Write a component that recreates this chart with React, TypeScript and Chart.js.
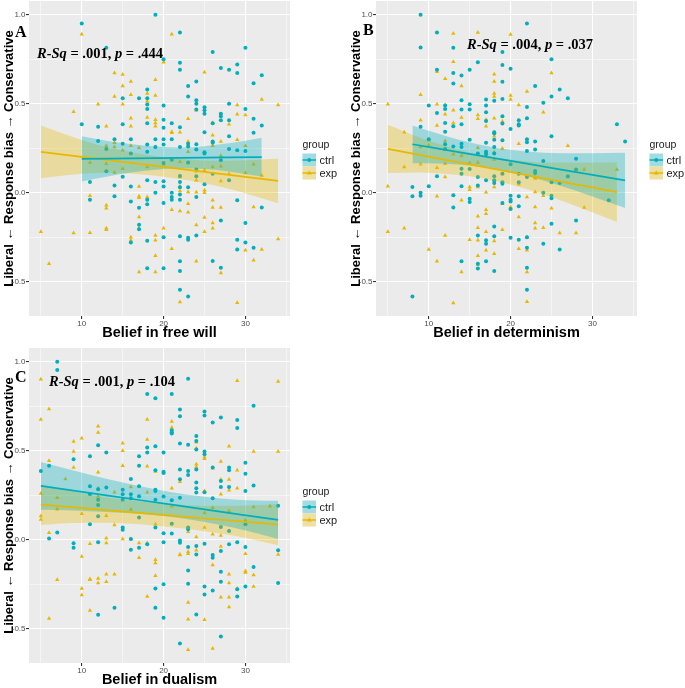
import React, { useEffect, useRef } from 'react';
import { Chart, registerables } from 'chart.js';

Chart.register(...registerables);

// ---------- shared axis data ----------
const xTicks = [5, 10, 15, 20, 25, 30, 35];
const xMajor = [10, 20, 30];
const yTicks = [-0.5, -0.25, 0, 0.25, 0.5, 0.75, 1.0];
const yMajor = [-0.5, 0, 0.5, 1.0];
const groups = ['ctrl', 'exp'];
const yTitle = 'Liberal ← Response bias → Conservative';

// ---------- Panel A: free will ----------
const freeWillCtrl: [number, number][] = [[10,0.95],[10,0.385],[11,0.06],[11,-0.04],[12,0.37],[12,0.29],[13,0.815],[13,0.245],[13,0.12],[14,0.30],[14,0.04],[14,-0.02],[15,0.53],[15,0.385],[15,0.275],[15,0.09],[16,0.30],[16,0.22],[16,0.035],[16,-0.05],[16,-0.28],[17,0.53],[17,-0.085],[17,-0.18],[17,-0.205],[18,0.58],[18,0.53],[18,0.495],[18,0.47],[18,0.39],[18,0.27],[18,0.23],[18,0.07],[18,-0.04],[18,-0.065],[18,-0.27],[18,-0.425],[19,1.0],[19,0.30],[19,0.257],[19,0.06],[19,0.0],[20,0.75],[20,0.49],[20,0.41],[20,0.365],[20,0.30],[20,0.27],[20,0.167],[20,0.064],[20,0.034],[20,-0.058],[20,-0.25],[20,-0.425],[21,0.39],[21,0.30],[21,0.185],[21,0.0],[21,-0.024],[21,-0.04],[22,0.9],[22,0.73],[22,0.69],[22,0.367],[22,0.257],[22,0.094],[22,0.06],[22,0.03],[22,-0.01],[22,-0.04],[22,-0.245],[22,-0.386],[22,-0.44],[22,-0.545],[23,0.6],[23,0.54],[23,0.275],[23,0.26],[23,0.17],[23,0.03],[23,-0.253],[23,-0.264],[23,-0.583],[24,0.625],[24,0.52],[24,0.5],[24,0.467],[24,0.272],[24,0.242],[24,0.13],[24,0.092],[24,-0.024],[24,-0.24],[25,0.48],[25,0.463],[25,0.444],[25,0.34],[25,0.227],[25,0.22],[25,0.047],[26,0.79],[26,0.39],[26,0.287],[26,0.28],[26,0.107],[26,-0.384],[27,0.70],[27,0.444],[27,0.43],[27,0.407],[27,0.182],[27,-0.156],[27,-0.422],[28,0.69],[28,0.50],[28,0.407],[28,0.317],[28,0.245],[28,0.07],[29,0.72],[29,0.673],[29,0.238],[29,-0.043],[29,-0.264],[29,-0.32],[30,0.814],[30,0.47],[30,0.234],[30,-0.17],[30,-0.28],[31,0.615],[31,0.416],[31,0.336],[31,-0.31],[32,0.66],[32,0.377],[32,-0.084]];
const freeWillExp: [number, number][] = [[5,-0.22],[6,-0.40],[9,0.454],[9,-0.227],[10,0.89],[11,0.169],[11,-0.017],[11,-0.225],[12,0.497],[13,0.373],[13,0.264],[13,0.163],[13,-0.07],[13,-0.088],[13,-0.2],[13,-0.208],[14,0.673],[14,0.54],[14,0.28],[14,0.257],[14,0.113],[15,0.664],[15,0.60],[15,0.497],[15,0.238],[15,0.135],[16,0.625],[16,0.55],[16,0.418],[16,0.373],[16,0.264],[16,-0.25],[16,-0.268],[17,0.253],[17,0.035],[17,-0.02],[17,-0.028],[17,-0.137],[17,-0.2],[17,-0.446],[18,0.557],[18,0.514],[18,0.422],[18,0.144],[18,-0.024],[19,0.635],[19,0.546],[19,0.41],[19,0.392],[19,0.373],[19,0.257],[19,-0.24],[19,-0.268],[19,-0.354],[19,-0.446],[20,0.733],[20,0.16],[20,-0.2],[21,0.89],[21,0.343],[21,0.336],[21,-0.096],[21,-0.315],[22,0.34],[22,0.174],[22,0.088],[22,0.036],[22,0.01],[22,-0.103],[22,-0.615],[23,0.416],[23,0.287],[23,0.23],[23,0.167],[23,0.004],[23,-0.062],[23,-0.11],[24,0.463],[24,0.12],[24,0.07],[24,0.002],[24,-0.182],[24,-0.385],[25,0.677],[25,0.126],[25,0.013],[25,0.0],[25,-0.14],[25,-0.22],[26,0.392],[26,0.322],[26,0.264],[26,0.144],[26,-0.043],[26,-0.084],[26,-0.17],[26,-0.2],[27,0.287],[27,0.208],[27,0.148],[27,0.066],[27,-0.084],[27,-0.452],[28,0.50],[28,0.384],[28,0.107],[29,0.493],[29,0.44],[29,0.298],[29,-0.32],[29,-0.619],[30,0.437],[30,0.264],[30,0.11],[30,-0.324],[31,0.16],[31,-0.08],[31,-0.38],[32,0.523],[32,0.097],[32,-0.32],[34,0.493],[34,-0.26]];
const freeWillCtrlFitX = [10, 13, 16, 19, 22, 25, 28, 32];
const freeWillCtrlFit = [0.190, 0.191, 0.193, 0.194, 0.195, 0.197, 0.198, 0.200];
const freeWillCtrlUpper = [0.317, 0.292, 0.273, 0.259, 0.254, 0.261, 0.277, 0.309];
const freeWillCtrlLower = [0.063, 0.090, 0.113, 0.129, 0.136, 0.133, 0.119, 0.091];
const freeWillExpFitX = [5, 9, 13, 17, 20, 23, 27, 31, 34];
const freeWillExpFit = [0.229, 0.207, 0.184, 0.162, 0.145, 0.128, 0.106, 0.083, 0.066];
const freeWillExpUpper = [0.377, 0.312, 0.256, 0.220, 0.200, 0.186, 0.179, 0.183, 0.192];
const freeWillExpLower = [0.081, 0.102, 0.112, 0.104, 0.090, 0.070, 0.033, -0.017, -0.060];

// ---------- Panel B: determinism ----------
const determinismCtrl: [number, number][] = [[8,0.032],[8,-0.02],[8,-0.583],[9,1.0],[9,0.816],[9,0.37],[9,0.0],[9,-0.017],[10,0.49],[10,0.30],[10,0.036],[11,0.90],[11,0.69],[11,0.448],[11,0.092],[12,0.49],[12,0.47],[12,0.392],[12,0.343],[12,0.272],[12,0.245],[13,0.814],[13,0.673],[13,0.613],[13,0.373],[13,0.26],[13,-0.015],[13,-0.084],[14,0.658],[14,0.52],[14,0.467],[14,0.384],[14,0.275],[14,0.257],[14,0.135],[14,0.107],[14,0.036],[14,-0.385],[15,0.69],[15,0.497],[15,0.467],[15,0.298],[15,0.133],[15,-0.034],[15,-0.052],[16,0.733],[16,0.22],[16,0.088],[16,0.04],[16,-0.24],[16,-0.40],[16,-0.426],[17,0.523],[17,0.49],[17,0.452],[17,0.403],[17,0.28],[17,0.23],[17,0.216],[17,0.07],[17,-0.268],[17,-0.287],[17,-0.385],[18,0.516],[18,0.34],[18,0.332],[18,0.298],[18,0.257],[18,0.22],[18,0.092],[18,0.07],[18,0.054],[18,-0.19],[18,-0.245],[18,-0.44],[19,0.79],[19,0.718],[19,0.623],[19,0.527],[19,0.43],[19,0.388],[19,0.294],[19,0.107],[19,0.058],[19,0.05],[19,-0.058],[20,0.696],[20,0.358],[20,0.16],[20,-0.017],[20,-0.04],[20,-0.05],[20,-0.092],[20,-0.253],[21,0.407],[21,0.384],[21,0.377],[21,0.107],[21,0.058],[21,-0.02],[21,-0.077],[21,-0.264],[22,0.95],[22,0.482],[22,0.418],[22,0.30],[22,0.283],[22,0.234],[22,0.088],[22,-0.25],[22,-0.31],[22,-0.422],[22,-0.545],[23,0.60],[23,0.287],[23,0.242],[23,0.122],[23,0.11],[24,0.505],[24,0.178],[24,0.0],[24,-0.287],[25,0.75],[25,0.54],[25,0.317],[25,0.058],[25,-0.017],[25,-0.032],[25,-0.174],[26,0.58],[26,0.054],[26,-0.32],[27,0.53],[27,0.092],[28,0.19],[28,0.13],[28,-0.156],[32,-0.043],[33,0.384],[34,0.287]];
const determinismExp: [number, number][] = [[5,0.497],[5,0.036],[5,-0.22],[7,0.34],[7,0.144],[7,-0.2],[9,0.55],[9,0.407],[9,0.257],[9,0.16],[10,0.294],[10,0.266],[10,-0.32],[11,0.68],[11,0.497],[11,0.377],[11,0.14],[11,-0.02],[11,-0.385],[12,0.64],[12,0.493],[12,0.44],[12,0.29],[12,0.242],[12,0.163],[12,0.088],[12,-0.24],[13,0.895],[13,0.735],[13,0.463],[13,0.392],[13,0.216],[13,-0.62],[14,0.60],[14,0.422],[14,0.208],[14,-0.043],[14,-0.446],[15,0.167],[15,0.032],[15,0.017],[15,-0.264],[16,0.90],[16,0.437],[16,0.416],[16,0.253],[16,0.17],[16,0.032],[16,-0.133],[16,-0.197],[16,-0.268],[16,-0.354],[16,-0.403],[17,0.41],[17,0.373],[17,0.229],[17,0.002],[17,-0.096],[17,-0.118],[17,-0.22],[17,-0.324],[18,0.666],[18,0.625],[18,0.557],[18,0.54],[18,0.418],[18,0.34],[18,0.317],[18,0.227],[18,0.186],[18,0.032],[18,-0.272],[18,-0.343],[19,0.4],[19,0.248],[19,0.107],[19,-0.062],[19,-0.208],[20,0.889],[20,0.546],[20,0.523],[20,-0.08],[20,-0.09],[21,0.493],[21,0.275],[21,0.047],[21,-0.137],[21,-0.315],[22,0.568],[22,-0.024],[22,-0.25],[22,-0.324],[22,-0.446],[22,-0.613],[23,0.088],[23,0.079],[23,0.004],[23,-0.08],[23,-0.17],[23,-0.2],[24,0.452],[24,-0.017],[24,-0.197],[25,0.673],[25,-0.088],[26,-0.227],[27,0.264],[27,0.088],[28,-0.227],[29,0.13],[29,-0.084],[33,0.13]];
const determinismCtrlFitX = [8, 11, 14, 18, 22, 26, 30, 34];
const determinismCtrlFit = [0.272, 0.249, 0.225, 0.194, 0.163, 0.131, 0.100, 0.069];
const determinismCtrlUpper = [0.378, 0.334, 0.293, 0.254, 0.232, 0.222, 0.221, 0.224];
const determinismCtrlLower = [0.166, 0.164, 0.157, 0.134, 0.094, 0.040, -0.021, -0.086];
const determinismExpFitX = [5, 9, 13, 17, 21, 25, 29, 33];
const determinismExpFit = [0.246, 0.211, 0.176, 0.142, 0.107, 0.072, 0.038, 0.003];
const determinismExpUpper = [0.381, 0.308, 0.250, 0.207, 0.181, 0.169, 0.169, 0.171];
const determinismExpLower = [0.111, 0.114, 0.102, 0.077, 0.033, -0.025, -0.093, -0.165];

// ---------- Panel C: dualism ----------
const dualismCtrl: [number, number][] = [[5,0.386],[6,0.415],[6,0.006],[7,1.0],[7,0.953],[7,0.04],[9,0.452],[9,-0.02],[9,-0.045],[11,0.469],[11,0.30],[11,0.255],[11,0.086],[12,0.531],[12,0.283],[12,0.225],[12,0.195],[12,0.131],[12,-0.015],[12,-0.422],[13,0.49],[13,0.293],[14,-0.383],[15,0.28],[15,0.255],[15,0.225],[15,0.068],[15,0.056],[16,0.341],[16,0.255],[16,0.233],[16,0.004],[16,-0.056],[17,0.469],[17,0.415],[17,0.30],[17,0.244],[17,0.124],[17,-0.045],[18,0.818],[18,0.518],[18,0.49],[18,-0.026],[19,0.795],[19,0.525],[19,0.39],[19,0.281],[19,0.274],[19,0.225],[19,0.068],[19,-0.274],[19,-0.383],[20,0.49],[20,0.381],[20,0.375],[20,0.242],[20,0.036],[20,-0.015],[20,-0.251],[20,-0.439],[21,0.818],[21,0.615],[21,0.604],[21,0.597],[21,0.221],[21,0.09],[21,0.034],[22,0.732],[22,0.694],[22,0.54],[22,0.394],[22,0.34],[22,0.236],[22,-0.004],[22,-0.017],[22,-0.584],[23,0.904],[23,0.533],[23,0.386],[23,0.364],[23,0.068],[23,0.058],[23,-0.041],[23,-0.173],[23,-0.248],[24,0.582],[24,0.555],[24,0.507],[24,0.394],[24,0.321],[24,0.289],[24,0.265],[24,-0.036],[24,-0.083],[24,-0.42],[25,0.72],[25,0.698],[25,0.495],[25,0.48],[25,0.266],[25,-0.023],[25,-0.263],[25,-0.308],[26,0.659],[26,0.405],[26,0.233],[26,-0.086],[26,-0.101],[26,-0.285],[27,0.687],[27,0.33],[27,0.296],[27,0.071],[27,-0.064],[27,-0.18],[27,-0.236],[27,-0.544],[28,0.405],[28,0.39],[28,0.296],[28,0.049],[28,-0.026],[29,0.672],[29,0.627],[29,-0.015],[29,-0.278],[29,-0.319],[30,0.432],[30,0.371],[30,0.274],[30,0.086],[30,-0.041],[30,-0.263],[31,0.752],[31,0.304],[31,-0.154],[34,0.191],[34,-0.06],[34,-0.244]];
const dualismExp: [number, number][] = [[5,0.902],[5,0.675],[5,0.259],[5,0.133],[5,0.114],[6,0.734],[6,0.443],[6,0.039],[6,-0.443],[7,0.236],[7,0.171],[7,-0.225],[8,0.341],[9,0.552],[9,0.495],[9,0.405],[10,0.57],[10,0.146],[10,-0.094],[10,-0.274],[10,-0.311],[11,-0.023],[11,-0.221],[11,-0.225],[11,-0.398],[12,0.638],[12,0.602],[12,0.379],[12,0.289],[12,0.242],[12,-0.218],[12,-0.244],[13,0.135],[13,0.008],[13,-0.019],[13,-0.195],[13,-0.236],[14,0.266],[14,0.083],[14,-0.195],[15,0.542],[15,0.499],[15,0.416],[15,0.004],[16,0.296],[16,0.169],[16,0.004],[17,-0.019],[17,-0.101],[18,0.675],[18,0.563],[18,0.413],[18,0.266],[18,-0.019],[18,-0.319],[19,0.383],[19,0.086],[19,-0.113],[19,-0.131],[19,-0.203],[19,-0.383],[20,0.379],[21,0.664],[21,0.63],[21,0.289],[21,0.188],[22,0.326],[22,-0.083],[22,-0.086],[23,0.045],[23,-0.068],[23,-0.079],[23,-0.353],[23,-0.447],[23,-0.619],[24,0.548],[24,0.514],[24,0.424],[24,0.409],[24,0.015],[24,-0.06],[25,0.465],[25,0.454],[25,0.274],[25,0.15],[25,0.068],[25,-0.45],[26,0.401],[26,0.18],[26,0.03],[26,-0.143],[26,-0.612],[27,0.439],[27,0.338],[27,0.255],[27,0.023],[27,-0.038],[27,-0.323],[28,0.525],[28,0.338],[28,0.278],[28,0.161],[28,-0.195],[28,-0.244],[28,-0.323],[28,-0.379],[29,0.893],[29,0.39],[29,0.289],[29,-0.274],[30,0.109],[30,-0.079],[30,-0.176],[30,-0.184],[31,0.495],[31,0.184],[31,-0.199],[31,-0.263],[33,0.188],[34,0.889],[34,0.495],[34,-0.083]];
const dualismCtrlFitX = [5, 9, 13, 17, 21, 25, 29, 34];
const dualismCtrlFit = [0.302, 0.276, 0.249, 0.223, 0.197, 0.170, 0.144, 0.111];
const dualismCtrlUpper = [0.436, 0.388, 0.342, 0.301, 0.267, 0.241, 0.225, 0.218];
const dualismCtrlLower = [0.168, 0.164, 0.156, 0.145, 0.127, 0.099, 0.063, 0.004];
const dualismExpFitX = [5, 9, 13, 17, 20, 23, 27, 31, 34];
const dualismExpFit = [0.197, 0.182, 0.166, 0.151, 0.139, 0.127, 0.112, 0.097, 0.085];
const dualismExpUpper = [0.312, 0.270, 0.237, 0.216, 0.204, 0.194, 0.190, 0.194, 0.201];
const dualismExpLower = [0.082, 0.094, 0.095, 0.086, 0.074, 0.060, 0.034, 0.000, -0.031];

// ---------- styling ----------
const CTRL = '#00AFBB';
const EXP = '#E7B800';
const CTRL_BAND = 'rgba(0,175,187,0.33)';
const EXP_BAND = 'rgba(231,184,0,0.33)';
const SANS = '"Liberation Sans", Arial, sans-serif';
const SERIF = '"Liberation Serif", "Times New Roman", serif';
const CW = 340;
const CH = 340;

interface Panel {
  letter: string;
  left: number;
  top: number;
  xTitle: string;
  stat: [string, boolean][];
  statX: number;
  statY: number;
  letterX: number;
  letterY: number;
  ctrl: [number, number][];
  exp: [number, number][];
  ctrlFitX: number[]; ctrlFit: number[]; ctrlUpper: number[]; ctrlLower: number[];
  expFitX: number[]; expFit: number[]; expUpper: number[]; expLower: number[];
}

const panels: Panel[] = [
  {
    letter: 'A', left: 0, top: 0, xTitle: 'Belief in free will',
    stat: [['R-Sq', true], [' = .001, ', false], ['p', true], [' = .444', false]],
    statX: 37, statY: 54, letterX: 15, letterY: 37,
    ctrl: freeWillCtrl, exp: freeWillExp,
    ctrlFitX: freeWillCtrlFitX, ctrlFit: freeWillCtrlFit, ctrlUpper: freeWillCtrlUpper, ctrlLower: freeWillCtrlLower,
    expFitX: freeWillExpFitX, expFit: freeWillExpFit, expUpper: freeWillExpUpper, expLower: freeWillExpLower,
  },
  {
    letter: 'B', left: 347, top: 0, xTitle: 'Belief in determinism',
    stat: [['R-Sq', true], [' = .004, ', false], ['p', true], [' = .037', false]],
    statX: 120, statY: 45, letterX: 16, letterY: 35,
    ctrl: determinismCtrl, exp: determinismExp,
    ctrlFitX: determinismCtrlFitX, ctrlFit: determinismCtrlFit, ctrlUpper: determinismCtrlUpper, ctrlLower: determinismCtrlLower,
    expFitX: determinismExpFitX, expFit: determinismExpFit, expUpper: determinismExpUpper, expLower: determinismExpLower,
  },
  {
    letter: 'C', left: 0, top: 347, xTitle: 'Belief in dualism',
    stat: [['R-Sq', true], [' = .001, ', false], ['p', true], [' = .104', false]],
    statX: 49, statY: 35, letterX: 15, letterY: 35,
    ctrl: dualismCtrl, exp: dualismExp,
    ctrlFitX: dualismCtrlFitX, ctrlFit: dualismCtrlFit, ctrlUpper: dualismCtrlUpper, ctrlLower: dualismCtrlLower,
    expFitX: dualismExpFitX, expFit: dualismExpFit, expUpper: dualismExpUpper, expLower: dualismExpLower,
  },
];

const bgPlugin = {
  id: 'panelBg',
  beforeDraw(chart: any) {
    const { ctx, chartArea } = chart;
    ctx.save();
    ctx.fillStyle = '#EBEBEB';
    ctx.fillRect(chartArea.left, chartArea.top, chartArea.right - chartArea.left, chartArea.bottom - chartArea.top);
    ctx.restore();
  },
};

function makeDecor(p: Panel) {
  return {
    id: 'decor' + p.letter,
    afterDraw(chart: any) {
      const ctx = chart.ctx as CanvasRenderingContext2D;
      ctx.save();
      // panel letter
      ctx.fillStyle = '#000';
      ctx.textBaseline = 'alphabetic';
      ctx.textAlign = 'left';
      ctx.font = `bold 16px ${SERIF}`;
      ctx.fillText(p.letter, p.letterX, p.letterY);
      // statistic text
      ctx.textBaseline = 'middle';
      let x = p.statX;
      for (const [t, it] of p.stat) {
        ctx.font = `${it ? 'italic ' : ''}bold 14.5px ${SERIF}`;
        ctx.fillText(t, x, p.statY);
        x += ctx.measureText(t).width;
      }
      // legend
      const lx = 302.5;
      ctx.fillStyle = '#1A1A1A';
      ctx.font = `10.5px ${SANS}`;
      ctx.fillText('group', lx, 145.5);
      const keys = [
        { label: groups[0], color: CTRL, band: CTRL_BAND, shape: 'circle', y: 153.5 },
        { label: groups[1], color: EXP, band: EXP_BAND, shape: 'triangle', y: 166.5 },
      ];
      for (const k of keys) {
        const w = 13.5, h = 13;
        ctx.fillStyle = '#F2F2F2';
        ctx.fillRect(lx, k.y, w, h);
        ctx.fillStyle = k.band;
        ctx.fillRect(lx, k.y, w, h);
        const cy = k.y + h / 2;
        ctx.strokeStyle = k.color;
        ctx.lineWidth = 1.5;
        ctx.beginPath();
        ctx.moveTo(lx, cy);
        ctx.lineTo(lx + w, cy);
        ctx.stroke();
        ctx.fillStyle = k.color;
        ctx.beginPath();
        if (k.shape === 'circle') {
          ctx.arc(lx + w / 2, cy, 2, 0, Math.PI * 2);
        } else {
          ctx.moveTo(lx + w / 2, cy - 2.6);
          ctx.lineTo(lx + w / 2 + 2.5, cy + 1.6);
          ctx.lineTo(lx + w / 2 - 2.5, cy + 1.6);
          ctx.closePath();
        }
        ctx.fill();
        ctx.fillStyle = '#1A1A1A';
        ctx.font = `11px ${SANS}`;
        ctx.fillText(k.label, lx + w + 3.5, cy + 0.5);
      }
      ctx.restore();
    },
  };
}

function buildChart(canvas: HTMLCanvasElement, p: Panel) {
  const pts = (arr: [number, number][]) => arr.map(([x, y]) => ({ x, y }));
  const curve = (xs: number[], ys: number[]) => xs.map((x, i) => ({ x, y: ys[i] }));
  const bandLine = { type: 'line', borderWidth: 0, borderColor: 'rgba(0,0,0,0)', pointRadius: 0, cubicInterpolationMode: 'monotone' };
  const datasets: any[] = [
    { type: 'scatter', label: groups[0], data: pts(p.ctrl), pointStyle: 'circle', pointRadius: 2, backgroundColor: CTRL, borderColor: CTRL, borderWidth: 0, order: 5 },
    { type: 'scatter', label: groups[1], data: pts(p.exp), pointStyle: 'triangle', pointRadius: 2.5, backgroundColor: EXP, borderColor: EXP, borderWidth: 0, order: 5 },
    { ...bandLine, data: curve(p.ctrlFitX, p.ctrlUpper), fill: '+1', backgroundColor: CTRL_BAND, order: 3 },
    { ...bandLine, data: curve(p.ctrlFitX, p.ctrlLower), fill: false, order: 3 },
    { ...bandLine, data: curve(p.expFitX, p.expUpper), fill: '+1', backgroundColor: EXP_BAND, order: 3 },
    { ...bandLine, data: curve(p.expFitX, p.expLower), fill: false, order: 3 },
    { type: 'line', data: curve(p.ctrlFitX, p.ctrlFit), borderColor: CTRL, borderWidth: 1.7, pointRadius: 0, fill: false, order: 1 },
    { type: 'line', data: curve(p.expFitX, p.expFit), borderColor: EXP, borderWidth: 1.7, pointRadius: 0, fill: false, order: 1 },
  ];
  const tickFont = { size: 8, family: SANS };
  return new Chart(canvas, {
    type: 'scatter',
    data: { datasets },
    options: {
      animation: false,
      responsive: false,
      events: [],
      layout: { autoPadding: false, padding: { left: 0, top: 1, right: 50, bottom: 0 } },
      plugins: { legend: { display: false }, tooltip: { enabled: false } },
      scales: {
        x: {
          type: 'linear',
          min: 3.55,
          max: 35.45,
          afterBuildTicks: (s: any) => { s.ticks = xTicks.map((v) => ({ value: v })); },
          afterFit: (s: any) => { s.height = 24; s.paddingLeft = 0; s.paddingRight = 0; },
          border: { display: false },
          grid: {
            color: '#FFFFFF',
            lineWidth: (c: any) => (c.tick && xMajor.includes(c.tick.value) ? 1.1 : 0.5),
            tickColor: (c: any) => (c.tick && xMajor.includes(c.tick.value) ? '#333333' : 'rgba(0,0,0,0)'),
            tickLength: 3,
          },
          ticks: {
            autoSkip: false, maxRotation: 0, padding: 0, color: '#4D4D4D', font: tickFont,
            callback: (v: any) => (xMajor.includes(v) ? String(v) : ''),
          },
          title: { display: true, text: p.xTitle, color: '#000', font: { size: 14.5, weight: 'bold', family: SANS, lineHeight: 1 }, padding: { top: 0, bottom: 0.25 } },
        },
        y: {
          type: 'linear',
          min: -0.693,
          max: 1.077,
          afterBuildTicks: (s: any) => { s.ticks = yTicks.map((v) => ({ value: v })); },
          afterFit: (s: any) => { s.width = 29; s.paddingTop = 0; s.paddingBottom = 0; },
          border: { display: false },
          grid: {
            color: '#FFFFFF',
            lineWidth: (c: any) => (c.tick && yMajor.includes(c.tick.value) ? 1.1 : 0.5),
            tickColor: (c: any) => (c.tick && yMajor.includes(c.tick.value) ? '#333333' : 'rgba(0,0,0,0)'),
            tickLength: 3,
          },
          ticks: {
            autoSkip: false, padding: 0.5, color: '#4D4D4D', font: tickFont,
            callback: (v: any) => (yMajor.includes(v) ? Number(v).toFixed(1) : ''),
          },
          title: { display: true, text: yTitle, color: '#000', font: { size: 13, weight: 'bold', family: SANS, lineHeight: 1.2 }, padding: { top: 1.8, bottom: 0 } },
        },
      },
    } as any,
    plugins: [bgPlugin, makeDecor(p)],
  } as any);
}

function PanelChart({ p }: { p: Panel }) {
  const ref = useRef<HTMLCanvasElement | null>(null);
  useEffect(() => {
    if (!ref.current) return;
    const chart = buildChart(ref.current, p);
    return () => chart.destroy();
  }, [p]);
  return (
    <div style={{ position: 'absolute', left: p.left, top: p.top, width: CW, height: CH }}>
      <canvas ref={ref} width={CW} height={CH} style={{ width: CW, height: CH, display: 'block' }} />
    </div>
  );
}

export default function App() {
  return (
    <div style={{ position: 'absolute', left: 0, top: 0, width: 685, height: 688, background: '#FFFFFF', overflow: 'hidden' }}>
      {panels.map((p) => (
        <PanelChart key={p.letter} p={p} />
      ))}
    </div>
  );
}
